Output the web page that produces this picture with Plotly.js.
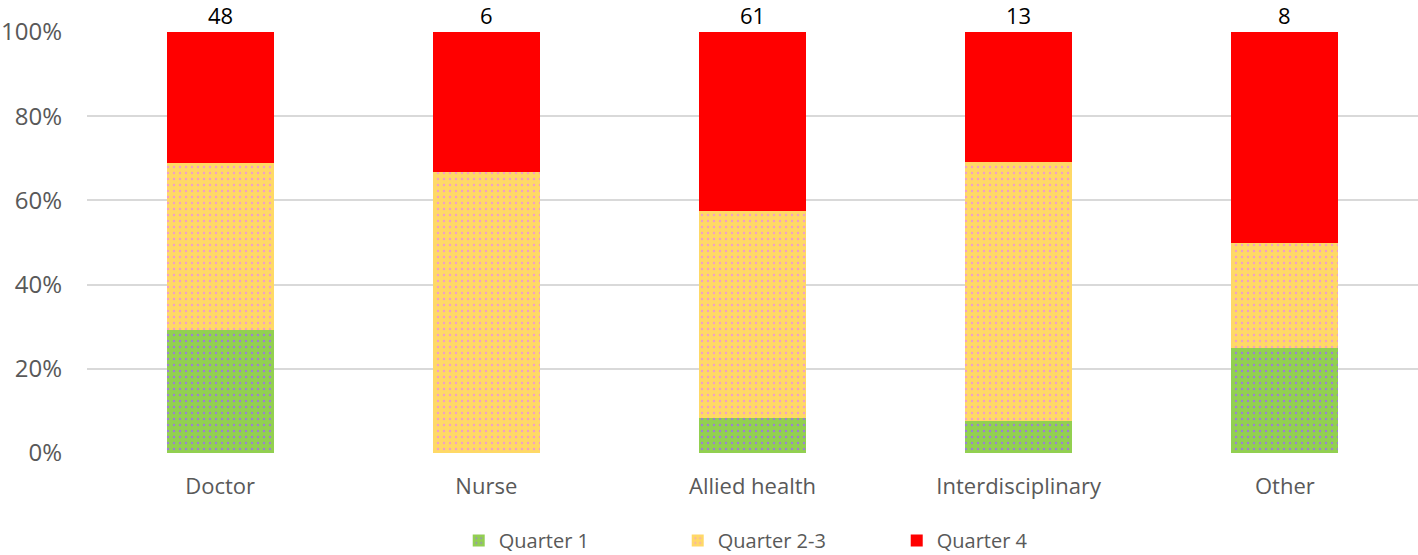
<!DOCTYPE html>
<html>
<head>
<meta charset="utf-8">
<script src="https://cdn.plot.ly/plotly-3.0.1.min.js"></script>
<style>
  body { margin: 0; background: #fff; }
  #chart { width: 1418px; height: 555px; }
</style>
</head>
<body>
<div id="chart"></div>
<script>
// categorias y porcentajes
const categories = ['Doctor', 'Nurse', 'Allied health', 'Interdisciplinary', 'Other'];
const totals = [48, 6, 61, 13, 8];
const quarter1 = [29.2, 0, 8.2, 7.7, 25];
const quarter23 = [39.6, 66.7, 49.2, 61.5, 25];
const quarter4 = [31.2, 33.3, 42.6, 30.8, 50];

const fontFam = 'Open Sans, Noto Sans, sans-serif';

function serie(nombre, valores, color, dots) {
    const t = {
        x: categories,
        y: valores,
        name: nombre,
        type: 'bar',
        marker: { color: color, line: { width: 0 } },
        hoverinfo: 'skip'
    };
    if (dots) {
        t.marker.pattern = { shape: '.', fgcolor: dots, size: 6, solidity: 0.12, bgcolor: color };
    }
    return t;
}

const data = [
    serie('Quarter 1', quarter1, '#92d050', '#9b7fd6'),
    serie('Quarter 2-3', quarter23, '#ffd966', '#f2a0c8'),
    serie('Quarter 4', quarter4, '#ff0000', null)
];

// etiquetas con el total encima de cada barra
const annotations = categories.map((c, i) => ({
    x: c,
    y: 100,
    text: String(totals[i]),
    showarrow: false,
    yanchor: 'bottom',
    yshift: 0,
    font: { family: fontFam, size: 22, color: '#000' }
}));

const layout = {
    width: 1418,
    height: 555,
    barmode: 'stack',
    bargap: 0.598,
    margin: { l: 87, r: 0, t: 32, b: 102 },
    paper_bgcolor: '#fff',
    plot_bgcolor: '#fff',
    showlegend: true,
    legend: {
        orientation: 'h',
        x: 0.3235,
        xref: 'container',
        xanchor: 'left',
        y: 0.026,
        yref: 'container',
        yanchor: 'middle',
        font: { family: fontFam, size: 20, color: '#595959' },
        itemwidth: 30,
        entrywidth: 174,
        traceorder: 'normal'
    },
    xaxis: {
        tickfont: { family: fontFam, size: 22, color: '#595959' },
        showline: false,
        ticks: '',
        ticklabelstandoff: 18,
        fixedrange: true
    },
    yaxis: {
        range: [0, 100],
        tickvals: [0, 20, 40, 60, 80, 100],
        ticktext: ['0%', '20%', '40%', '60%', '80%', '100%'],
        tickfont: { family: fontFam, size: 24, color: '#595959' },
        gridcolor: '#d9d9d9',
        gridwidth: 2,
        zeroline: false,
        ticks: '',
        ticklabelstandoff: 24,
        fixedrange: true
    },
    annotations: annotations
};

Plotly.newPlot('chart', data, layout, { displayModeBar: false, staticPlot: true });
</script>
</body>
</html>
